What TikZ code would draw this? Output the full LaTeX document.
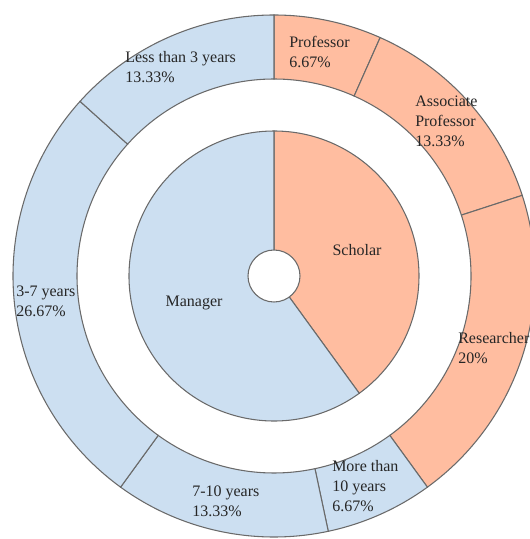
\documentclass[tikz,border=0pt]{standalone}
\usepackage{fontspec}
\setmainfont{Liberation Serif}
\newfontfamily\labelface{Liberation Serif}
\definecolor{mgrblue}{HTML}{CCDFF1}
\definecolor{schsalmon}{HTML}{FFBDA0}
\definecolor{edgegray}{HTML}{6A6A6A}
\definecolor{txtgray}{HTML}{262626}
\tikzset{
  seglabel/.style={anchor=north west, inner sep=0pt, align=left,
    font=\labelface\fontsize{12}{15}\selectfont, text=txtgray},
  pielabel/.style={anchor=base, inner sep=0pt,
    font=\labelface\fontsize{12}{15}\selectfont, text=txtgray},
  ringseg/.style={draw=edgegray, line width=0.8pt}
}
\begin{document}
\begin{tikzpicture}[x=0.75pt,y=0.75pt]
    \useasboundingbox (0,0) rectangle (530,539);
    \clip (0,0) rectangle (530,539);
    \begin{scope}[shift={(274,263)}]
        % Draw the inner pie
        \filldraw[ringseg, fill=schsalmon] (0,0) -- (90:145) arc (90:-54:145) -- cycle;
        \filldraw[ringseg, fill=mgrblue] (0,0) -- (-54:145) arc (-54:-270:145) -- cycle;
        \filldraw[ringseg, fill=white] (0,0) circle (26);

        % Draw the outer ring
        \foreach \a/\b/\c in {90/66/schsalmon, 66/18/schsalmon, 18/-54/schsalmon,
            -54/-78/mgrblue, -78/-126/mgrblue, -126/-222/mgrblue, -222/-270/mgrblue}
            \filldraw[ringseg, fill=\c] (\a:197) arc (\a:\b:197) -- (\b:261) arc (\b:\a:261) -- cycle;
    \end{scope}

    % Add the labels
    \node[pielabel] (scholar) at (357, 283) {Scholar};
    \node[pielabel] (manager) at (194, 232) {Manager};

    \node[seglabel] (prof) at (289, 503) {Professor\\6.67\%};
    \node[seglabel] (assoc) at (415, 443) {Associate\\Professor\\13.33\%};
    \node[seglabel] (research) at (458, 207) {Researcher\\20\%};
    \node[seglabel] (morethan) at (332, 79) {More than\\10 years\\6.67\%};
    \node[seglabel] (seventen) at (192, 53) {7-10 years\\13.33\%};
    \node[seglabel] (threeseven) at (16, 253) {3-7 years\\26.67\%};
    \node[seglabel] (lessthree) at (125, 488) {Less than 3 years\\13.33\%};
\end{tikzpicture}
\end{document}
